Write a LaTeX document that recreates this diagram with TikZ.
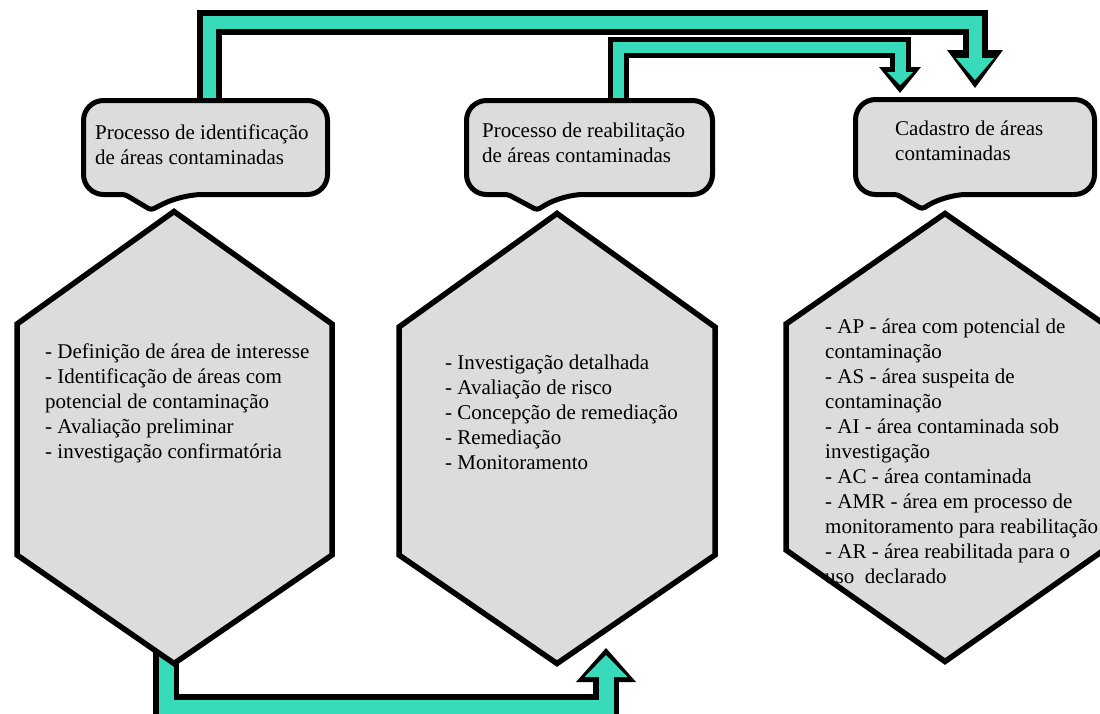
\documentclass[tikz,border=0pt]{standalone}
\usepackage{fontspec}
\setmainfont{Liberation Serif}
\usetikzlibrary{positioning}
\usetikzlibrary{arrows.meta}
\definecolor{mteal}{RGB}{56,219,185}
\definecolor{mgray}{RGB}{220,220,220}

\begin{document}
\begin{tikzpicture}[x=1pt, y=-1pt,
    every node/.style={font=\fontsize{21}{25}\selectfont},
    callline/.style={draw, line width=5pt, fill=mgray, line join=round},
    hexa/.style={draw, line width=5.5pt, fill=mgray, line join=miter},
    boxtext/.style={anchor=north west, inner sep=0pt, align=left},
    arrowbg/.style={draw=black, line width=#1, line join=miter},
    arrowfg/.style={draw=mteal, line width=#1, line join=miter},
]
\useasboundingbox (0,0) rectangle (1100,713);

\coordinate (identtop) at (209,115);
\coordinate (reabtop) at (618,115);
\coordinate (identbot) at (166,640);
\coordinate (tgtbig) at (975,88);
\coordinate (tgtsmall) at (900,93);
\coordinate (tgtbot) at (606,648);

% arrows: black body first, teal inside
\draw[arrowbg=25pt, -{Triangle[width=56pt,length=38pt,line width=0pt]}] (identtop) |- (975,22.5) -- (tgtbig);
\draw[arrowfg=13pt, -{Triangle[width=38pt,length=22pt,line width=0pt]}, shorten >=8pt] (identtop) |- (975,22.5) -- (tgtbig);

\draw[arrowbg=21pt, -{Triangle[width=42pt,length=26pt,line width=0pt]}] (reabtop) |- (900,47.5) -- (tgtsmall);
\draw[arrowfg=11pt, -{Triangle[width=26pt,length=13pt,line width=0pt]}, shorten >=8pt] (reabtop) |- (900,47.5) -- (tgtsmall);

\draw[arrowbg=26pt, -{Triangle[width=60pt,length=34pt,line width=0pt]}] (identbot) |- (606,707) -- (tgtbot);
\draw[arrowfg=15pt, -{Triangle[width=43pt,length=22pt,line width=0pt]}, shorten >=7pt] (identbot) |- (606,707) -- (tgtbot);

% callouts
\draw[callline] (83.5,150) [rounded corners=20pt] -- (83.5,100.5) -- (327.5,100.5) -- (327.5,194.5) -- (182,194.5)
  [rounded corners=3pt] -- (151,210) -- (125,194.5) [rounded corners=20pt] -- (83.5,194.5) -- cycle;
\draw[callline] (466.5,150) [rounded corners=20pt] -- (466.5,100.5) -- (712.5,100.5) -- (712.5,194.5) -- (563,194.5)
  [rounded corners=3pt] -- (537,210) -- (508,194.5) [rounded corners=20pt] -- (466.5,194.5) -- cycle;
\draw[callline] (855.5,150) [rounded corners=20pt] -- (855.5,99.5) -- (1094.5,99.5) -- (1094.5,194.5) -- (946,194.5)
  [rounded corners=3pt] -- (922,209) -- (897,194.5) [rounded corners=20pt] -- (855.5,194.5) -- cycle;

\node[boxtext] (callident) at (95,124.5) {Processo de identificação\\de áreas contaminadas};
\node[boxtext] (callreab) at (482,122.5) {Processo de reabilitação\\de áreas contaminadas};
\node[boxtext] (callcad) at (895,120.5) {Cadastro de áreas\\contaminadas};

% hexagons
\draw[hexa] (17,324) -- (174,211.5) -- (332,324) -- (332,555) -- (174,663.5) -- (17,555) -- cycle;
\draw[hexa] (399,327) -- (557,213.5) -- (715,327) -- (715,555) -- (557,663.5) -- (399,555) -- cycle;
\draw[hexa] (786,324) -- (945,213.5) -- (1104,324) -- (1104,550) -- (945,661.5) -- (786,550) -- cycle;

\node[boxtext] (hexident) at (45,344) {- Definição de área de interesse\\- Identificação de áreas com\\potencial de contaminação\\- Avaliação preliminar\\- investigação confirmatória};
\node[boxtext] (hexreab) at (445,355) {- Investigação detalhada\\- Avaliação de risco\\- Concepção de remediação\\- Remediação\\- Monitoramento};
\node[boxtext] (hexcad) at (825,319) {- AP - área com potencial de\\contaminação\\- AS - área suspeita de\\contaminação\\- AI - área contaminada sob\\investigação\\- AC - área contaminada\\- AMR - área em processo de\\monitoramento para reabilitação\\- AR - área reabilitada para o\\uso\ \ declarado};
\end{tikzpicture}
\end{document}
